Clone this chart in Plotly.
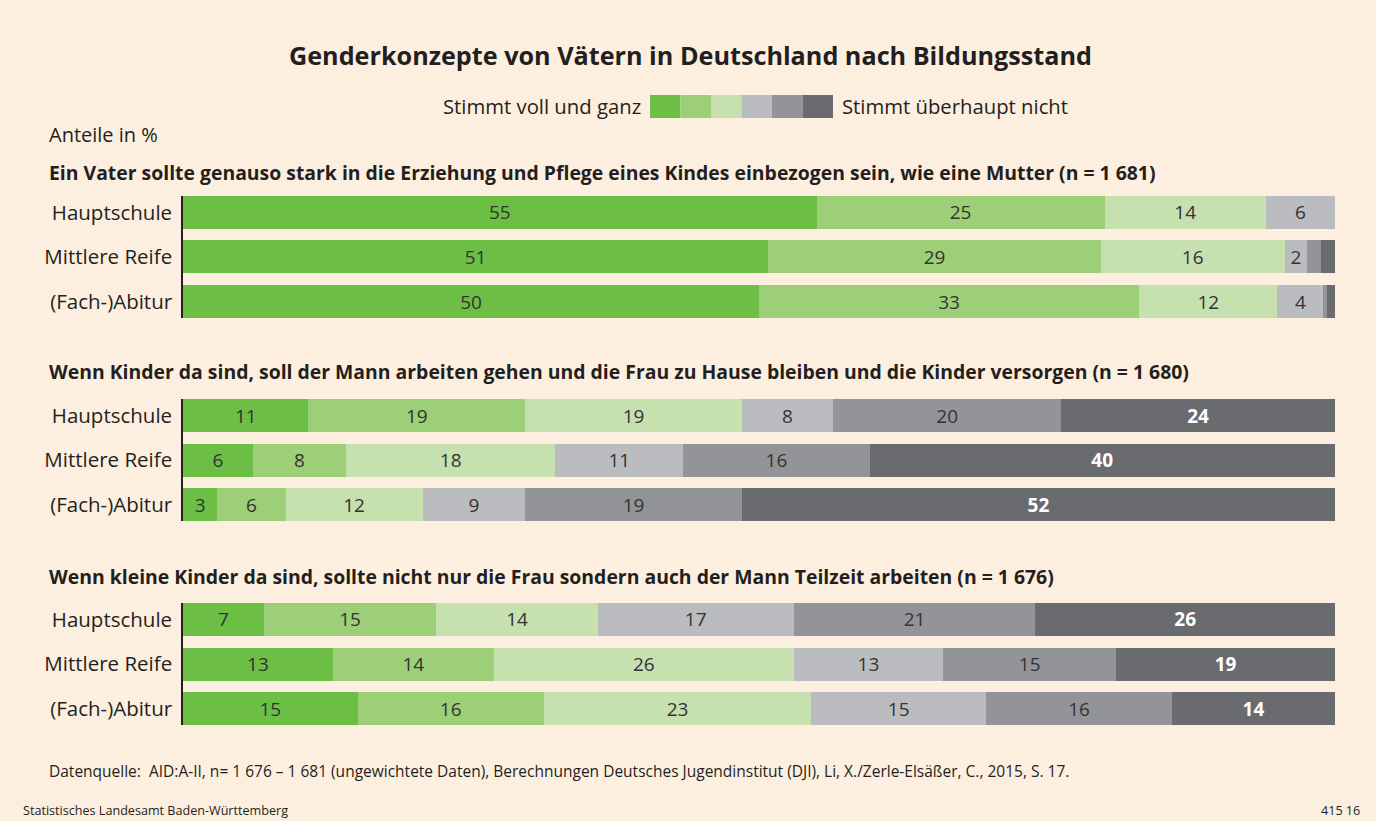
import plotly.graph_objects as go

W, H = 1376, 821
BG = "#FDEFDF"
TXT = "#231f20"
FONT = "Open Sans"

rows = ["Hauptschule", "Mittlere Reife", "(Fach-)Abitur"]
levels = ["Stimmt voll und ganz", "2", "3", "4", "5", "Stimmt überhaupt nicht"]
colors = ["#6CBE45", "#9DCF78", "#C6E0B0", "#BBBCC0", "#939497", "#6A6B6F"]

questions = [
    "Ein Vater sollte genauso stark in die Erziehung und Pflege eines Kindes einbezogen sein, wie eine Mutter (n = 1 681)",
    "Wenn Kinder da sind, soll der Mann arbeiten gehen und die Frau zu Hause bleiben und die Kinder versorgen (n = 1 680)",
    "Wenn kleine Kinder da sind, sollte nicht nur die Frau sondern auch der Mann Teilzeit arbeiten (n = 1 676)",
]

# values per question: each list = one answer level, entries per row (Hauptschule, Mittlere Reife, (Fach-)Abitur)
q1 = [[55, 51, 50], [25, 29, 33], [14, 16, 12], [6, 2, 4], [0, 1.2, 0.3], [0, 1.2, 0.7]]
q2 = [[11, 6, 3], [19, 8, 6], [19, 18, 12], [8, 11, 9], [20, 16, 19], [24, 40, 52]]
q3 = [[7, 13, 15], [15, 14, 16], [14, 26, 23], [17, 13, 15], [21, 15, 16], [26, 19, 14]]
data = [q1, q2, q3]

# layout geometry (pixels)
x0_px, x1_px = 183, 1335
centers_px = [257, 460, 664]
cat_step = 44.5
pad = 0.37
title_y_px = [172, 371, 576]

fig = go.Figure()

for qi, q in enumerate(data):
    xa = "x" if qi == 0 else f"x{qi+1}"
    ya = "y" if qi == 0 else f"y{qi+1}"
    for li, vals in enumerate(q):
        last = li == len(q) - 1
        txt = [("%g" % v) if v >= 2 else "" for v in vals]
        fig.add_trace(go.Bar(
            x=vals, y=rows, orientation="h",
            marker=dict(color=colors[li], line=dict(width=0)),
            text=txt, textposition="inside", insidetextanchor="middle",
            textangle=0,
            textfont=dict(size=19, color="white" if last else "#333333",
                          family=FONT, weight="bold" if last else "normal"),
            xaxis=xa, yaxis=ya, showlegend=False, hoverinfo="skip",
        ))

layout_axes = {}
for qi in range(3):
    c = centers_px[qi]
    half = (2 + 2 * pad) / 2 * cat_step
    top_px, bot_px = c - half, c + half
    dom = [1 - bot_px / H, 1 - top_px / H]
    xk = "xaxis" if qi == 0 else f"xaxis{qi+1}"
    yk = "yaxis" if qi == 0 else f"yaxis{qi+1}"
    xa = "x" if qi == 0 else f"x{qi+1}"
    layout_axes[xk] = dict(domain=[x0_px / W, x1_px / W], range=[0, 100], visible=False,
                           anchor="y" if qi == 0 else f"y{qi+1}", fixedrange=True)
    layout_axes[yk] = dict(domain=dom, range=[2 + pad, -pad], anchor=xa,
                           showline=True, linecolor="#231f20", linewidth=1.5,
                           showgrid=False, zeroline=False,
                           ticks="outside", ticklen=5, tickcolor="rgba(0,0,0,0)",
                           tickfont=dict(size=20.5, color=TXT, family=FONT),
                           fixedrange=True)

annotations = [
    dict(text="<b>Genderkonzepte von Vätern in Deutschland nach Bildungsstand</b>",
         x=690 / W, y=1 - 55 / H, xref="paper", yref="paper", xanchor="center", yanchor="middle",
         showarrow=False, font=dict(size=25.2, color=TXT, family=FONT)),
    dict(text="Anteile in %", x=47 / W, y=1 - 134 / H, xref="paper", yref="paper",
         xanchor="left", yanchor="middle", showarrow=False,
         font=dict(size=20, color=TXT, family=FONT)),
    dict(text=levels[0], x=643 / W, y=1 - 106 / H, xref="paper", yref="paper",
         xanchor="right", yanchor="middle", showarrow=False,
         font=dict(size=20.3, color=TXT, family=FONT)),
    dict(text=levels[-1], x=840 / W, y=1 - 106 / H, xref="paper", yref="paper",
         xanchor="left", yanchor="middle", showarrow=False,
         font=dict(size=20.3, color=TXT, family=FONT)),
    dict(text="Datenquelle:  AID:A-II, n= 1 676 – 1 681 (ungewichtete Daten), Berechnungen Deutsches Jugendinstitut (DJI), Li, X./Zerle-Elsäßer, C., 2015, S. 17.",
         x=47 / W, y=1 - 771 / H, xref="paper", yref="paper", xanchor="left", yanchor="middle",
         showarrow=False, font=dict(size=15.5, color=TXT, family=FONT)),
    dict(text="Statistisches Landesamt Baden-Württemberg",
         x=21 / W, y=1 - 810 / H, xref="paper", yref="paper", xanchor="left", yanchor="middle",
         showarrow=False, font=dict(size=12.6, color=TXT, family=FONT)),
    dict(text="415 16",
         x=1362 / W, y=1 - 810 / H, xref="paper", yref="paper", xanchor="right", yanchor="middle",
         showarrow=False, font=dict(size=12.6, color=TXT, family=FONT)),
]
for qi, t in enumerate(questions):
    annotations.append(dict(text=f"<b>{t}</b>", x=47 / W, y=1 - title_y_px[qi] / H,
                            xref="paper", yref="paper", xanchor="left", yanchor="middle",
                            showarrow=False, font=dict(size=19.4, color=TXT, family=FONT)))

# legend swatches
shapes = []
sw_x0, sw_w, sw_y0, sw_y1 = 650, 30.5, 95, 118
for i, col in enumerate(colors):
    shapes.append(dict(type="rect", xref="paper", yref="paper",
                       x0=(sw_x0 + i * sw_w) / W, x1=(sw_x0 + (i + 1) * sw_w) / W,
                       y0=1 - sw_y1 / H, y1=1 - sw_y0 / H,
                       fillcolor=col, line=dict(width=0)))

fig.update_layout(
    width=W, height=H, margin=dict(l=0, r=0, t=0, b=0),
    paper_bgcolor=BG, plot_bgcolor=BG,
    barmode="stack", barnorm="percent", bargap=1 - 33 / cat_step,
    annotations=annotations, shapes=shapes,
    font=dict(family=FONT, color=TXT),
    **layout_axes,
)

fig.write_html("out.html")
